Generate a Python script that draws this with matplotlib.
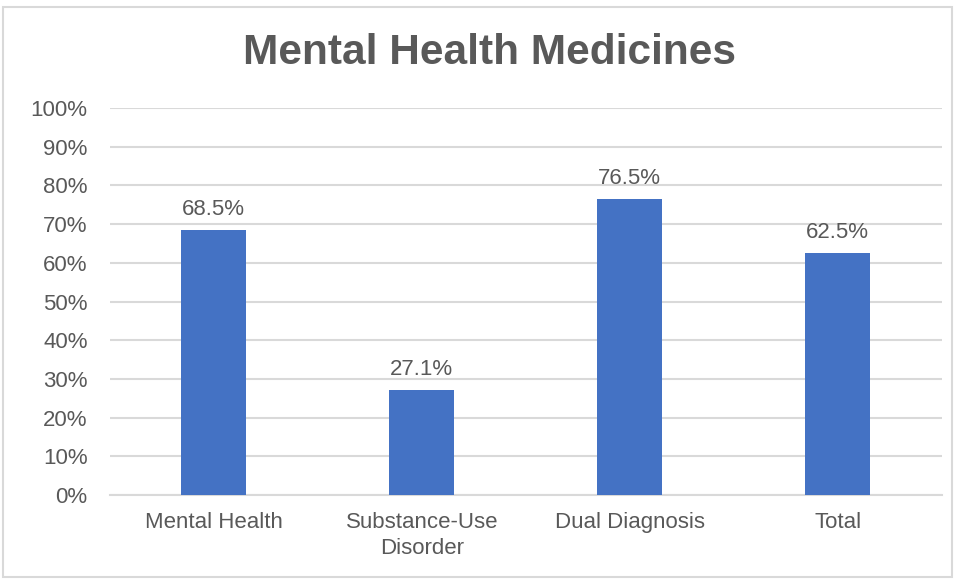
import matplotlib
matplotlib.use("Agg")
import matplotlib.pyplot as plt
from matplotlib.patches import Rectangle
from matplotlib.ticker import FuncFormatter, MultipleLocator

categories = ["Mental Health", "Substance-Use\nDisorder", "Dual Diagnosis", "Total"]
values = [68.5, 27.1, 76.5, 62.5]

bar_color = "#4472C4"
text_color = "#595959"
grid_color = "#D9D9D9"

plt.rcParams["font.family"] = ["Liberation Sans", "DejaVu Sans"]

fig = plt.figure(figsize=(9.55, 5.8), dpi=100)
ax = fig.add_axes([0.115, 0.1466, 0.871, 0.667])

x = list(range(len(categories)))
bars = ax.bar(x, values, width=0.3125, color=bar_color, zorder=3)
ax.bar_label(bars, labels=[f"{v:.1f}%" for v in values], padding=7,
             fontsize=16, color=text_color)

ax.set_xlim(-0.5, len(categories) - 0.5)
ax.set_ylim(0, 100)
ax.yaxis.set_major_locator(MultipleLocator(10))
ax.yaxis.set_major_formatter(FuncFormatter(lambda v, p: f"{v:.0f}%"))
ax.set_xticks(x)
ax.set_xticklabels(categories, fontsize=16, color=text_color, linespacing=1.35)
ax.tick_params(axis="y", labelsize=16, labelcolor=text_color, length=0, pad=16)
ax.tick_params(axis="x", length=0, pad=12)

ax.grid(axis="y", color=grid_color, linewidth=1.5, zorder=0)
for s in ["top", "right", "left"]:
    ax.spines[s].set_visible(False)
ax.spines["bottom"].set_color(grid_color)
ax.spines["bottom"].set_linewidth(1.5)

fig.text(0.513, 0.908, "Mental Health Medicines", ha="center", va="center",
         fontsize=30.5, fontweight="bold", color=text_color)

# chart border
fig.patches.append(Rectangle((3 / 955, 3 / 580), 949 / 955, 570 / 580,
                             transform=fig.transFigure, fill=False,
                             edgecolor=grid_color, linewidth=1.5))

fig.savefig("out.png", dpi=100)
